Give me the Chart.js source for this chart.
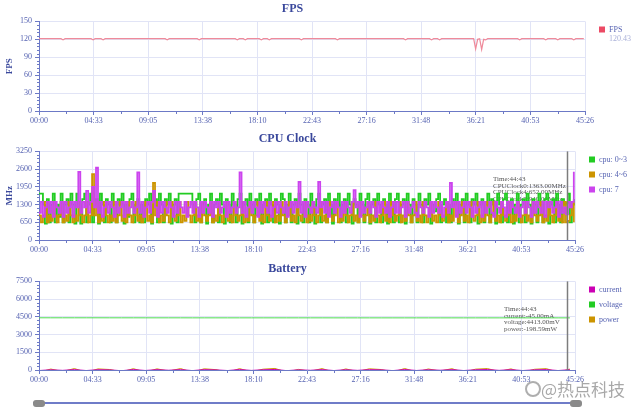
<!DOCTYPE html>
<html>
<head>
<meta charset="utf-8">
<title>Performance</title>
<script src="https://cdn.jsdelivr.net/npm/chart.js@4.4.0/dist/chart.umd.min.js"></script>
<style>
  html, body { margin: 0; padding: 0; background: #fff; }
  #wrap { position: relative; width: 640px; height: 413px; overflow: hidden; }
  .box { position: absolute; left: 0; width: 640px; height: 130px; }
  #slider { position: absolute; left: 33px; top: 402px; width: 547px; height: 2px; background: #6f7cc8; }
  .handle { position: absolute; top: 400px; width: 12px; height: 7px; background: #8a8a8a; border-radius: 3px; }
  #logo { position: absolute; left: 525px; top: 381px; width: 12px; height: 12px; border: 2px solid rgba(120,120,120,0.6); border-radius: 50%; }
  #mark { position: absolute; left: 541px; top: 376px; font: 17px "Noto Sans CJK SC", sans-serif; color: rgba(110,110,110,0.6); text-shadow: 0 0 2px #fff; white-space: nowrap; }
</style>
</head>
<body>
<div id="wrap">
  <div class="box" style="top:0"><canvas id="fpsChart"></canvas></div>
  <div class="box" style="top:130px"><canvas id="cpuChart"></canvas></div>
  <div class="box" style="top:260px"><canvas id="batChart"></canvas></div>
  <div id="slider"></div>
  <div class="handle" style="left:33px"></div>
  <div class="handle" style="left:570px"></div>
  <div id="logo"></div>
  <div id="mark">@热点科技</div>
</div>

<script>
/* ================= DATA ================= */
const X_MAX = 2726; // 45:26 in seconds
const timeTicks = ['00:00', '04:33', '09:05', '13:38', '18:10', '22:43',
                   '27:16', '31:48', '36:21', '40:53', '45:26'];
const cursorTime = 2683; // 44:43

// FPS, one sample every 10 s
const FPS_STEP = 10;
const fpsValues = [
  121,121,121,121,121,121,121,121,121,121,121,121,119,121,121,121,121,121,121,121,121,
  121,121,121,121,121,121,119,121,121,121,121,119,121,121,121,121,121,121,121,121,121,
  121,121,121,121,121,121,121,121,121,121,121,121,121,121,121,121,121,121,121,121,121,
  121,119,121,121,121,121,121,121,121,121,121,121,121,121,121,121,121,119,121,121,121,
  121,121,121,121,121,121,121,121,121,121,121,121,121,121,121,119,121,121,121,119,121,
  121,121,121,121,121,121,119,121,121,121,119,121,121,121,121,121,121,121,121,121,121,
  121,121,121,121,121,119,121,121,121,121,121,121,121,121,121,121,121,121,121,121,121,
  121,121,119,121,121,121,121,121,121,121,121,121,121,121,121,121,121,121,121,121,121,
  121,121,121,121,121,121,121,121,121,121,121,121,121,121,121,119,121,121,121,121,121,
  121,121,121,121,121,121,121,119,121,121,121,119,121,121,121,121,121,121,121,121,121,
  121,121,121,121,121,121,121,121,104,120,121,103,120,119,121,121,121,121,121,121,121,
  121,121,121,121,121,121,121,121,121,119,121,121,121,121,121,121,121,121,121,121,121,
  121,119,121,121,121,121,121,119,121,121,121,121,121,121,121,119,121,121,121,121,121
];

// CPU clock (MHz), one sample every 10 s
const CPU_STEP = 10;
const cpu03 = [
  1700,1700,1300,600,1500,650,1300,1700,650,1300,850,1700,650,
  1300,1500,650,1700,1300,600,1700,1300,600,1500,1700,650,1300,
  1700,650,1300,1500,600,1700,1300,650,1500,1300,650,1700,1300,
  650,1500,1300,1700,600,1300,850,1500,1700,650,1300,1500,650,
  1300,650,1500,1300,1700,600,1300,1500,650,1700,1300,650,1500,
  1300,1700,600,1300,1500,650,1700,1700,1700,1700,1700,1700,1700,
  1300,650,1500,1700,650,1300,1500,600,1300,1700,650,1300,1500,
  650,1700,1300,600,1500,1300,650,1700,1300,650,1500,1700,600,
  1300,1500,650,1700,1300,650,1500,1300,1700,600,1300,1500,650,
  1700,1300,650,1500,1300,600,1700,1500,650,1300,1700,650,1300,
  1500,600,1700,1300,650,1500,1300,650,1700,1300,600,1500,1700,
  650,1300,1500,650,1700,1300,600,1500,1300,1700,650,1300,1500,
  650,1700,1300,600,1500,1300,650,1700,1300,650,1500,1700,600,
  1300,1500,650,1700,1300,650,1500,1300,600,1700,1300,650,1500,
  1700,650,1300,1500,600,1700,1300,650,1500,1300,650,1700,1300,
  650,1500,1300,1700,600,1300,1050,1500,1700,650,1300,1500,650,
  1300,650,1500,1300,1700,600,1300,1500,650,1700,1300,650,1500,
  1300,1700,600,1300,1500,650,1300,1700,650,1500,1300,600,1700,
  1300,650,1500,1700,650,1300,1500,600,1300,1700,650,1300,1500,
  650,1700,1300,600,1500,1300,650,1700,1300,650,1500,1700,600,
  1300,1500,650,1700,1300,650,1500,1300,1363,1700,650,1300,1500
];
const cpu46 = [
  900,650,900,1400,650,900,700,1400,900,650,900,1400,650,
  900,700,1400,900,650,900,700,1400,900,650,900,1400,650,
  900,2420,900,1400,650,900,700,1400,900,650,900,700,1400,
  650,900,1400,700,900,650,1400,900,650,900,1400,700,900,
  650,900,1400,700,900,650,2090,900,1400,650,900,700,1400,
  900,650,1400,900,700,900,1400,650,900,700,1400,900,650,
  900,1400,700,900,650,1400,900,700,900,1400,650,900,700,
  1400,900,650,900,1400,700,900,650,1400,900,700,900,1400,
  650,900,700,1400,900,650,900,1400,700,900,650,1400,900,
  700,900,1400,650,900,700,1400,900,650,900,1400,700,900,
  650,1400,900,700,900,1400,650,900,700,1400,900,650,900,
  1400,700,900,650,1400,900,700,900,1400,650,900,700,1400,
  900,650,900,1400,700,900,650,1400,900,700,900,1400,650,
  900,700,1400,900,650,900,1400,700,900,650,1400,900,700,
  900,1400,650,900,700,1400,900,650,900,1400,700,900,650,
  1400,900,650,900,1400,700,900,650,1400,900,700,900,1400,
  650,900,700,1400,900,650,900,1400,700,900,650,1400,900,
  700,900,1400,650,900,700,1400,900,650,900,1400,700,900,
  650,1400,900,700,900,1400,650,900,700,1400,900,650,900,
  1400,700,900,650,1400,900,700,900,1400,650,900,700,1400,
  900,650,900,1400,700,900,650,1400,652,700,900,1400,650
];
const cpu7 = [
  1000,1400,850,1200,1400,1000,1400,850,1400,1200,1000,1400,850,
  1400,1000,1200,1400,850,1400,1200,2500,1000,1400,1200,1800,1000,
  1400,1950,1200,2650,1000,1400,850,1200,1400,1000,1400,1200,850,
  1400,1000,1200,1400,850,1400,1000,1200,1400,1000,1200,2480,1000,
  1400,850,1200,1400,1000,1400,1800,1200,850,1400,1000,1400,1200,
  1000,1400,1200,850,1400,1000,1400,1200,1000,1400,850,1200,1400,
  1000,1400,1200,850,1400,1000,1400,1200,1000,1400,850,1400,1200,
  1400,1000,1200,1400,850,1400,1000,1200,1400,1000,1200,2480,1000,
  1400,850,1200,1400,1000,1400,1200,850,1400,1000,1400,1200,1000,
  1400,850,1200,1400,1000,1400,1200,1000,1400,850,1200,1400,1000,
  1400,1200,2130,1000,1400,850,1400,1200,1000,1400,1200,1000,2130,
  1200,1400,1000,1400,850,1200,1400,1000,1400,1200,850,1400,1000,
  1400,1200,1000,1400,1825,1200,1400,850,1400,1000,1200,1400,1000,
  1400,1200,850,1400,1000,1400,1200,1000,1400,850,1200,1400,1000,
  1400,1000,1200,1400,850,1400,1000,1200,1400,1000,850,1400,1200,
  1000,1400,1200,850,1400,1000,1400,1200,1000,1400,850,1200,1400,
  1000,2090,1200,1400,850,1400,1000,1200,1400,1000,1400,1200,850,
  1400,1000,1200,1400,850,1400,1000,1200,1400,1000,850,1400,1200,
  1000,1400,1200,850,1400,1000,1400,1200,1000,1400,850,1200,1400,
  1000,1400,1200,850,1400,1000,1400,1200,1000,1400,850,1400,1200,
  1400,1000,1200,1400,850,1400,1000,1200,940,1400,1200,1400,2500
];

// Battery, one sample every 60 s
const BAT_STEP = 60;
const batCurrent = [
  -45,20,-30,35,-45,25,10,-60,40,-40,30,-20,35,-50,30,10,
  -45,40,-35,20,45,-55,15,-25,35,-45,25,-30,30,15,-50,40,
  -40,25,-20,35,-45,20,40,-30,30,-45,15,35,-45,25
];
const batVoltage = [
  4420,4419,4419,4418,4418,4418,4417,4417,4417,4416,4416,4416,4416,4415,4415,4415,
  4415,4415,4414,4414,4414,4414,4414,4414,4414,4413,4413,4413,4413,4413,4413,4413,
  4413,4413,4413,4413,4413,4413,4413,4413,4413,4413,4413,4413,4413,4413
];
const batPower = [
  -198,80,-130,120,-198,90,40,-160,110,-175,95,-90,120,-190,100,30,
  -198,115,-155,70,130,-180,50,-110,120,-198,90,-130,100,40,-170,125,
  -175,85,-90,110,-198,70,120,-130,95,-198,60,115,-198,80
];

const cpuNote = ['Time:44:43', 'CPUClock0:1363.00MHz', 'CPUClock4:652.00MHz', 'CPUClock7:940.00MHz'];
const batNote = ['Time:44:43', 'current:-45.00mA', 'voltage:4413.00mV', 'power:-198.59mW'];

/* ================= STYLE ================= */
const SERIF = '"Liberation Serif", "DejaVu Serif", serif';
const AXIS = '#6c79c6';
const GRID = '#e1e4f6';
const TEXT = '#5663b2';
const TITLE = '#3a489c';

function toPoints(values, step) {
  return values.map((v, i) => ({ x: i * step, y: v }));
}

/* ================= DECOR PLUGIN ================= */
// minor ticks, right-hand legend, cursor line and cursor readout
const decor = {
  id: 'decor',
  beforeDatasetsDraw(chart, args, opts) {
    if (!opts.note) return;
    const ctx = chart.ctx;
    ctx.save();
    ctx.font = '7px ' + SERIF;
    ctx.fillStyle = '#555';
    ctx.textBaseline = 'middle';
    opts.note.forEach((t, i) => ctx.fillText(t, opts.noteX, opts.noteY + i * 6.7));
    ctx.restore();
  },
  afterDraw(chart, args, opts) {
    const ctx = chart.ctx;
    const xs = chart.scales.x, ys = chart.scales.y, a = chart.chartArea;
    ctx.save();
    ctx.strokeStyle = AXIS;
    ctx.lineWidth = 1;

    // y minor ticks
    const yt = ys.ticks;
    for (let k = 0; k < yt.length - 1; k++) {
      const step = (yt[k + 1].value - yt[k].value) / 5;
      for (let j = 1; j < 5; j++) {
        const py = Math.round(ys.getPixelForValue(yt[k].value + step * j)) + 0.5;
        ctx.beginPath();
        ctx.moveTo(a.left - 2, py);
        ctx.lineTo(a.left, py);
        ctx.stroke();
      }
    }
    // x minor ticks
    const xt = xs.ticks;
    for (let k = 0; k < xt.length - 1; k++) {
      const px = Math.round(xs.getPixelForValue((xt[k].value + xt[k + 1].value) / 2)) + 0.5;
      ctx.beginPath();
      ctx.moveTo(px, a.bottom);
      ctx.lineTo(px, a.bottom + 3);
      ctx.stroke();
    }

    // cursor
    if (opts.cursor != null) {
      const px = Math.round(xs.getPixelForValue(opts.cursor)) + 0.5;
      ctx.strokeStyle = '#7d7d7d';
      ctx.lineWidth = 1.5;
      ctx.beginPath();
      ctx.moveTo(px, a.top);
      ctx.lineTo(px, a.bottom);
      ctx.stroke();
    }

    // legend
    ctx.font = '8px ' + SERIF;
    ctx.textBaseline = 'middle';
    opts.legend.forEach((di, i) => {
      const ds = chart.data.datasets[di];
      const y = opts.legendY + i * 15;
      ctx.fillStyle = ds.legendColor || ds.borderColor;
      ctx.fillRect(opts.legendX, y - 3, 6, 6);
      ctx.fillStyle = TEXT;
      ctx.fillText(ds.label, opts.legendX + 10, y);
    });
    if (opts.sub) {
      ctx.fillStyle = '#a9b0d8';
      ctx.fillText(opts.sub, opts.legendX + 10, opts.legendY + 9);
    }
    ctx.restore();
  }
};

/* ================= OPTIONS ================= */
function makeOptions(cfg) {
  return {
    responsive: true,
    maintainAspectRatio: false,
    animation: false,
    events: [],
    layout: { padding: { left: 0, right: cfg.right, top: 0, bottom: 0 } },
    plugins: {
      legend: { display: false },
      tooltip: { enabled: false },
      title: {
        display: true,
        text: cfg.title,
        color: TITLE,
        font: { family: SERIF, size: 12, weight: 'bold' },
        padding: { top: 2, bottom: 5 }
      },
      decor: cfg.decor
    },
    scales: {
      x: {
        type: 'linear',
        min: 0,
        max: X_MAX,
        afterBuildTicks: s => { s.ticks = timeTicks.map((_, i) => ({ value: i * X_MAX / 10 })); },
        afterFit: s => { s.height = cfg.xh; },
        ticks: {
          autoSkip: false,
          maxRotation: 0,
          color: TEXT,
          padding: 1,
          font: { family: SERIF, size: 8 },
          callback: (v, i) => timeTicks[i]
        },
        grid: { color: GRID, tickColor: AXIS, tickLength: 4 },
        border: { color: AXIS }
      },
      y: {
        min: 0,
        max: cfg.ymax,
        afterFit: s => { s.width = 39; },
        ticks: {
          stepSize: cfg.ystep,
          color: TEXT,
          padding: 3,
          font: { family: SERIF, size: 8 },
          callback: v => String(v)
        },
        title: {
          display: !!cfg.ytitle,
          text: cfg.ytitle || '',
          color: TITLE,
          font: { family: SERIF, size: 9, weight: 'bold' }
        },
        grid: { color: GRID, tickColor: AXIS, tickLength: 4 },
        border: { color: AXIS }
      }
    }
  };
}

/* ================= CHARTS ================= */
new Chart(document.getElementById('fpsChart'), {
  type: 'line',
  data: {
    datasets: [{
      label: 'FPS',
      data: toPoints(fpsValues, FPS_STEP),
      borderColor: '#ef8a9a',
      legendColor: '#ec4a64',
      borderWidth: 1.2,
      pointRadius: 0
    }]
  },
  options: makeOptions({
    title: 'FPS', ytitle: 'FPS', ymax: 150, ystep: 30, right: 55, xh: 19,
    decor: { legend: [0], legendX: 599, legendY: 29.5, sub: '120.43' }
  }),
  plugins: [decor]
});

const cpuLine = { borderWidth: 1.8, pointRadius: 0, stepped: true };
new Chart(document.getElementById('cpuChart'), {
  type: 'line',
  data: {
    datasets: [
      { ...cpuLine, label: 'cpu: 7', data: toPoints(cpu7, CPU_STEP), borderColor: '#cc44ee' },
      { ...cpuLine, label: 'cpu: 4~6', data: toPoints(cpu46, CPU_STEP), borderColor: '#cc9400' },
      { ...cpuLine, label: 'cpu: 0~3', data: toPoints(cpu03, CPU_STEP), borderColor: '#22cc22' }
    ]
  },
  options: makeOptions({
    title: 'CPU Clock', ytitle: 'MHz', ymax: 3250, ystep: 650, right: 65, xh: 20,
    decor: { legend: [2, 1, 0], legendX: 589, legendY: 29.5, cursor: cursorTime,
             note: cpuNote, noteX: 493, noteY: 49 }
  }),
  plugins: [decor]
});

const batLine = { borderWidth: 1, pointRadius: 0 };
new Chart(document.getElementById('batChart'), {
  type: 'line',
  data: {
    datasets: [
      { ...batLine, label: 'current', data: toPoints(batCurrent, BAT_STEP), borderColor: '#cc00b4' },
      { ...batLine, label: 'voltage', data: toPoints(batVoltage, BAT_STEP), borderColor: '#4fdc4f', legendColor: '#22cc22' },
      { ...batLine, label: 'power', data: toPoints(batPower, BAT_STEP), borderColor: '#cc9400' }
    ]
  },
  options: makeOptions({
    title: 'Battery', ymax: 7500, ystep: 1500, right: 65, xh: 20,
    decor: { legend: [0, 1, 2], legendX: 589, legendY: 29.5, cursor: cursorTime,
             note: batNote, noteX: 504, noteY: 49 }
  }),
  plugins: [decor]
});
</script>
</body>
</html>
